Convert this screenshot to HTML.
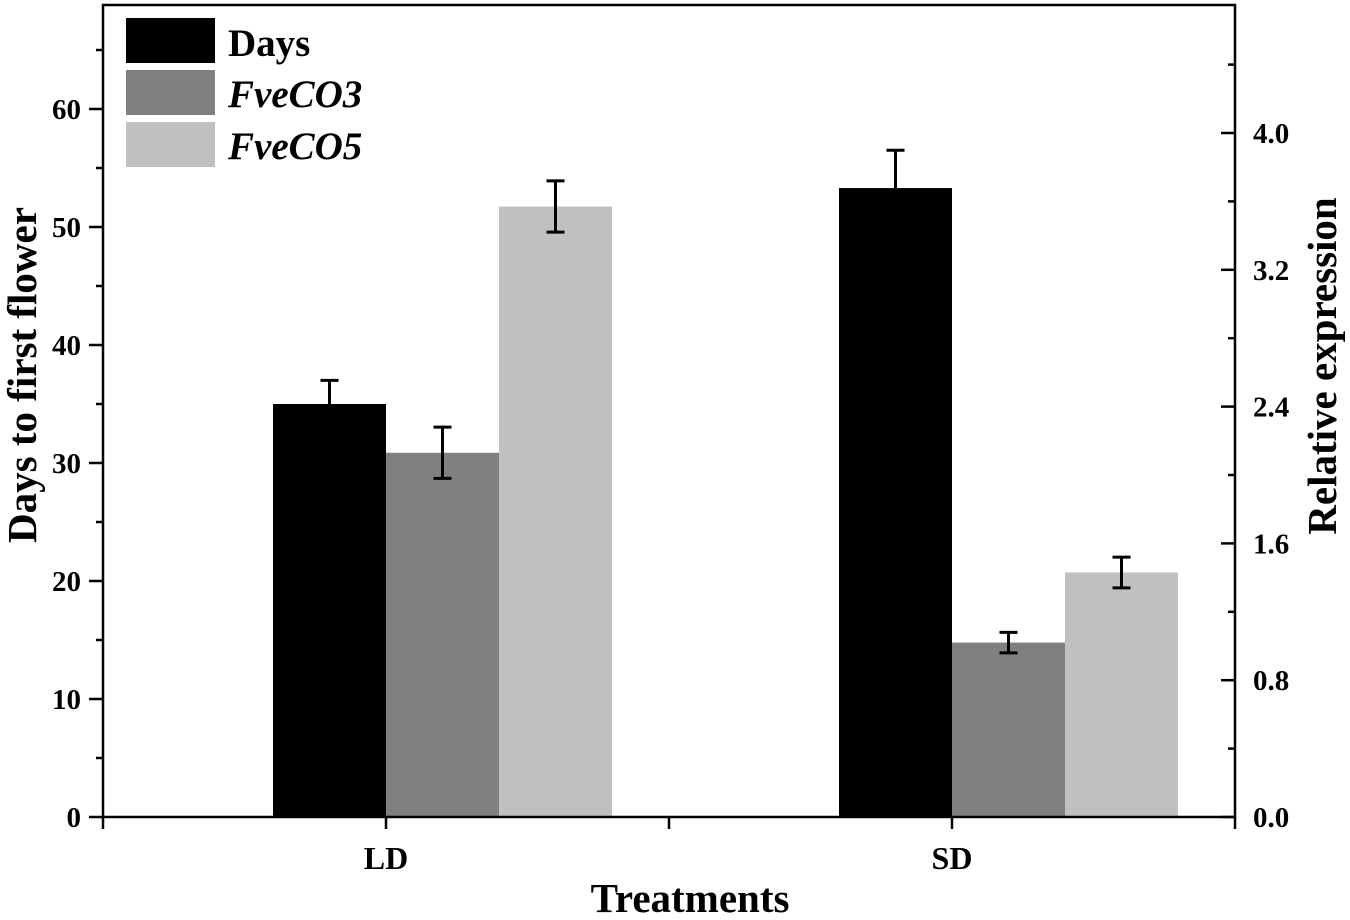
<!DOCTYPE html>
<html><head><meta charset="utf-8"><style>
html,body{margin:0;padding:0;background:#fff;}
svg{display:block;font-family:"Liberation Serif",serif;font-weight:bold;}
</style></head><body>
<svg id="chart" width="1350" height="920" viewBox="0 0 1350 920">
<g id="bars"></g>
<g id="axes"></g>
<g id="legend">
<rect x="126" y="18" width="89" height="45" fill="#000"/>
<text x="228" y="56" font-size="39">Days</text>
<rect x="126" y="70" width="89" height="45" fill="#808080"/>
<text x="228" y="107" font-size="39" font-style="italic">FveCO3</text>
<rect x="126" y="122" width="89" height="45" fill="#c0c0c0"/>
<text x="228" y="159" font-size="39" font-style="italic">FveCO5</text>
</g>
<text x="690" y="912" font-size="41" text-anchor="middle">Treatments</text>
<text transform="translate(36,375) rotate(-90)" font-size="41" text-anchor="middle">Days to first flower</text>
<text transform="translate(1336,366) rotate(-90)" font-size="41" text-anchor="middle">Relative expression</text>
</svg>
<script>
const categories = ["LD", "SD"];
const daysValues = [35.0, 53.3];
const daysErr = [2.0, 3.2];
const co3Values = [2.13, 1.02];
const co3Err = [0.15, 0.06];
const co5Values = [3.57, 1.43];
const co5Err = [0.15, 0.09];
const leftTicks = [0, 10, 20, 30, 40, 50, 60];
const rightTicks = ["0.0", "0.8", "1.6", "2.4", "3.2", "4.0"];

const NS = "http://www.w3.org/2000/svg";
const L = 103, R = 1235, T = 5, B = 817;
function xPos(i) { return L + (i + 0.5) * (R - L) / 2; }
function yL(v) { return B - v * (B - 109) / 60; }
function yR(v) { return B - v * (B - 133) / 4; }
function mk(tag, attrs, parent) {
  const e = document.createElementNS(NS, tag);
  for (const k in attrs) e.setAttribute(k, attrs[k]);
  parent.appendChild(e);
  return e;
}
const bars = document.getElementById('bars');
const axes = document.getElementById('axes');
const bw = 113;
const series = [
  {vals: daysValues, err: daysErr, y: yL, color: "#000", off: -1, key: "days"},
  {vals: co3Values, err: co3Err, y: yR, color: "#808080", off: 0, key: "fveco3"},
  {vals: co5Values, err: co5Err, y: yR, color: "#c0c0c0", off: 1, key: "fveco5"}
];
series.forEach(s => {
  categories.forEach((c, i) => {
    const x0 = xPos(i) + s.off * bw;
    const yt = s.y(s.vals[i]);
    const r = mk('rect', {x: x0, y: yt, width: bw, height: B - yt, fill: s.color}, bars);
    
    
    const cx = x0 + bw / 2;
    const y1 = s.y(s.vals[i] + s.err[i]), y2 = s.y(s.vals[i] - s.err[i]);
    const g = mk('g', {stroke: '#000', 'stroke-width': 3, fill: 'none'}, bars);
    
    
    mk('line', {x1: cx, x2: cx, y1: y1, y2: y2}, g);
    mk('line', {x1: cx - 9, x2: cx + 9, y1: y1, y2: y1}, g);
    mk('line', {x1: cx - 9, x2: cx + 9, y1: y2, y2: y2}, g);
  });
});
const frame = mk('rect', {x: L, y: T, width: R - L, height: B - T, fill: 'none', stroke: '#000', 'stroke-width': 2.5}, axes);


for (let v = 0; v <= 65; v += 5) {
  const y = yL(v), major = v % 10 === 0;
  mk('line', {x1: L - (major ? 14 : 7), x2: L, y1: y, y2: y, stroke: '#000', 'stroke-width': 2.5}, axes);
}
leftTicks.forEach(v => {
  const t = mk('text', {x: L - 22, y: yL(v) + 10, 'font-size': 29, 'text-anchor': 'end'}, axes);
  t.textContent = v;
  
  
});
for (let k = 0; k <= 11; k++) {
  const v = k * 0.4, y = yR(v), major = k % 2 === 0;
  mk('line', {x1: R - (major ? 14 : 7), x2: R, y1: y, y2: y, stroke: '#000', 'stroke-width': 2.5}, axes);
}
rightTicks.forEach(s => {
  const t = mk('text', {x: R + 18, y: yR(parseFloat(s)) + 10, 'font-size': 29}, axes);
  t.textContent = s;
  
  
});
[-0.5, 0, 0.5, 1, 1.5].forEach(p => {
  const x = L + (p + 0.5) * (R - L) / 2;
  mk('line', {x1: x, x2: x, y1: B, y2: B + 12, stroke: '#000', 'stroke-width': 2.5}, axes);
});
categories.forEach((c, i) => {
  const t = mk('text', {x: xPos(i), y: B + 52, 'font-size': 32, 'text-anchor': 'middle'}, axes);
  t.textContent = c;
  
  
});
</script>
</body></html>
